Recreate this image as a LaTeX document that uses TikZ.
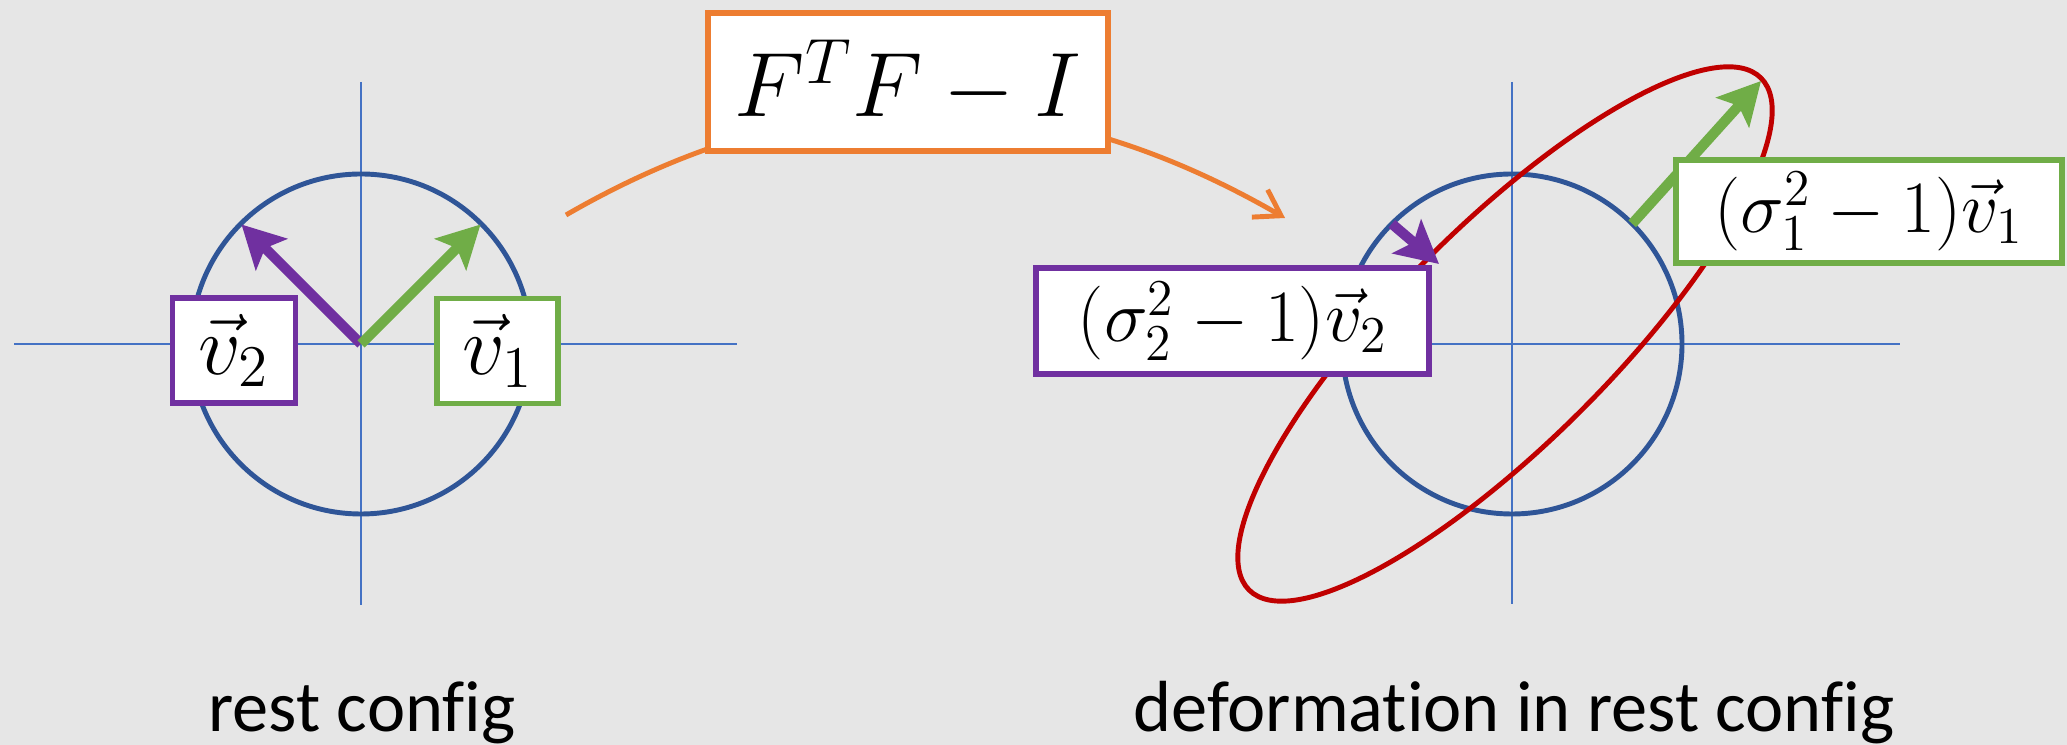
\RequirePackage{fix-cm}
\documentclass[tikz,border=0pt]{standalone}
\usepackage{fontspec}
\setmainfont{Carlito}[Ligatures=CommonOff]
\usetikzlibrary{arrows.meta}
\definecolor{bggray}{RGB}{230,230,230}
\definecolor{axisblue}{RGB}{68,114,196}
\definecolor{circblue}{RGB}{47,85,151}
\definecolor{vpurple}{RGB}{112,48,160}
\definecolor{vgreen}{RGB}{112,173,71}
\definecolor{fgorange}{RGB}{237,125,49}
\definecolor{ellred}{RGB}{192,0,0}
\begin{document}
\begin{tikzpicture}[every node/.style={font=\fontsize{20.6}{24}\selectfont},
  axis/.style={axisblue,line width=0.5pt},
  circ/.style={circblue,line width=1.4pt},
  vec/.style={line width=2.9pt,-{Stealth[length=12pt,width=12.5pt,inset=2.5pt]}},
  lbl/.style={draw,line width=1.6pt,fill=white,inner sep=0pt,minimum height=1.05cm}]
\useasboundingbox (0,0) rectangle (20.67,7.45);
\fill[bggray] (0,0) rectangle (20.67,7.45);
% rest config
\coordinate (O1) at (3.61,4.01);
\draw[axis] (0.14,4.01) -- (7.37,4.01);
\draw[axis] (3.61,6.63) -- (3.61,1.40);
\draw[circ] (O1) circle (1.70);
\path (O1) ++(135:1.69) coordinate (t2);
\path (O1) ++(45:1.69) coordinate (t1);
\draw[vec,vpurple] (O1) -- (t2);
\draw[vec,vgreen] (O1) -- (t1);
\node[lbl,draw=vpurple,minimum width=1.23cm,font=\fontsize{24}{28}\selectfont] (v2) at (2.34,3.945) {$\vec{v}_2$};
\node[lbl,draw=vgreen,minimum width=1.21cm,font=\fontsize{24}{28}\selectfont] (v1) at (4.975,3.94) {$\vec{v}_1$};
% map
\coordinate (mapA) at (5.66,5.30);
\coordinate (mapB) at (12.85,5.27);
\draw[fgorange,line width=1.4pt,-{Straight Barb[length=7pt,width=9pt]}] (mapA) to[out=30,in=150] (mapB);
\node[lbl,draw=fgorange,minimum width=4.0cm,minimum height=1.38cm,font=\fontsize{26}{30}\selectfont] (ftf) at (9.08,6.63) {$F^TF-I$};
% deformation
\coordinate (O2) at (15.12,4.01);
\draw[axis] (11.65,4.01) -- (19.00,4.01);
\draw[axis] (15.12,6.63) -- (15.12,1.41);
\draw[circ] (O2) circle (1.70);
\draw[ellred,line width=1.4pt,rotate around={45:(15.05,4.11)}] (15.05,4.11) ellipse (3.62 and 1.08);
\path (O2) ++(45:1.70) coordinate (s1);
\path (O2) ++(135:1.70) coordinate (s2);
\coordinate (e1) at (17.61,6.64);
\coordinate (e2) at (14.39,4.81);
\draw[vec,vgreen] (s1) -- (e1);
\draw[vec,vpurple] (s2) -- (e2);
\node[lbl,draw=vpurple,minimum width=3.93cm,minimum height=1.06cm,font=\fontsize{21}{24}\selectfont] (w2) at (12.325,4.24) {$(\sigma_2^2-1)\vec{v}_2$};
\node[lbl,draw=vgreen,minimum width=3.86cm,minimum height=1.03cm,font=\fontsize{21}{24}\selectfont] (w1) at (18.69,5.335) {$(\sigma_1^2-1)\vec{v}_1$};
% captions
\node[anchor=base] (restcap) at (3.62,0.13) {rest config};
\node[anchor=base] (defcap) at (15.14,0.13) {deformation in rest config};
\end{tikzpicture}
\end{document}
